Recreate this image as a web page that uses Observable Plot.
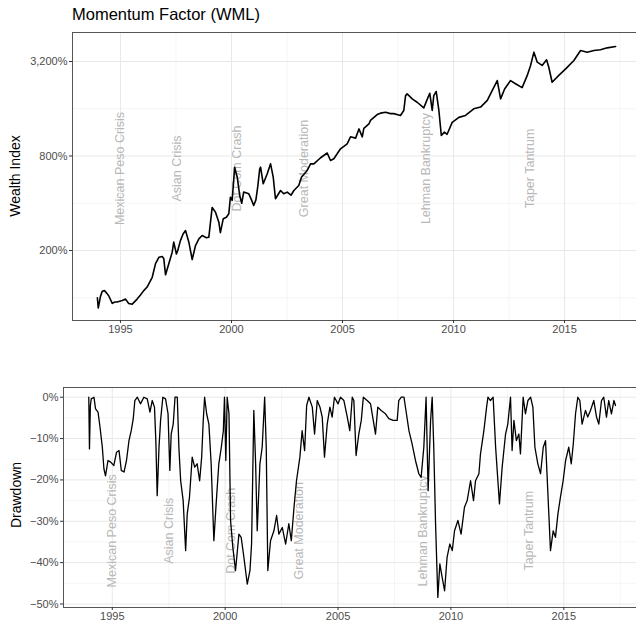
<!DOCTYPE html>
<html><head><meta charset="utf-8">
<script src="https://cdn.jsdelivr.net/npm/d3@7"></script>
<script src="https://cdn.jsdelivr.net/npm/@observablehq/plot@0.6"></script>
<style>
body{margin:0;background:#fff;font-family:"Liberation Sans",Arial,sans-serif;}
#wrap{position:relative;width:636px;height:625px;overflow:hidden;}
.title{position:absolute;left:72px;top:6px;font-size:16.5px;line-height:1;color:#000;white-space:nowrap;}
.ylab{position:absolute;font-size:14px;line-height:1;white-space:nowrap;color:#000;transform:translate(-50%,-50%) rotate(-90deg);}
#top,#bot{position:absolute;left:0;}
</style></head><body>
<div id="wrap">
<div id="top" style="top:0px"></div>
<div id="bot" style="top:345px"></div>
<div class="title">Momentum Factor (WML)</div>
<div class="ylab" style="left:15px;top:176px">Wealth Index</div>
<div class="ylab" style="left:16px;top:495px">Drawdown</div>
</div>
<script>
// ---- Data ----
const wealthYear = [1993.96,1994.0,1994.1,1994.18,1994.28,1994.38,1994.47,1994.63,1994.75,1994.85,1995.08,1995.23,1995.37,1995.53,1995.75,1995.9,1996.05,1996.2,1996.43,1996.58,1996.73,1996.88,1996.95,1997.03,1997.18,1997.33,1997.4,1997.52,1997.58,1997.7,1997.82,1997.93,1998.08,1998.23,1998.38,1998.53,1998.68,1998.87,1998.98,1999.13,1999.28,1999.43,1999.5,1999.63,1999.77,1999.88,1999.95,2000.03,2000.1,2000.14,2000.26,2000.37,2000.46,2000.55,2000.78,2000.9,2001.0,2001.1,2001.18,2001.27,2001.31,2001.43,2001.61,2001.76,2001.88,2001.98,2002.21,2002.35,2002.51,2002.68,2002.81,2003.03,2003.15,2003.41,2003.56,2003.71,2004.0,2004.31,2004.46,2004.61,2004.91,2005.21,2005.36,2005.59,2005.74,2005.89,2005.96,2006.19,2006.26,2006.56,2006.71,2006.94,2007.16,2007.31,2007.61,2007.76,2007.84,2007.91,2008.14,2008.36,2008.66,2008.81,2008.93,2009.04,2009.11,2009.22,2009.34,2009.45,2009.59,2009.71,2009.94,2010.24,2010.54,2010.91,2011.22,2011.52,2011.74,2011.97,2012.12,2012.3,2012.57,2012.79,2013.09,2013.32,2013.47,2013.62,2013.77,2013.99,2014.19,2014.29,2014.44,2014.74,2015.05,2015.42,2015.72,2016.02,2016.32,2016.62,2016.92,2017.3];
const wealthValue = [1.00,0.86,1.02,1.10,1.11,1.07,1.03,0.92,0.94,0.94,0.96,0.98,0.92,0.91,0.98,1.04,1.11,1.17,1.35,1.65,1.81,1.83,1.78,1.40,1.65,1.95,2.26,1.90,2.0,2.31,2.55,2.68,2.26,1.75,2.15,2.37,2.49,2.41,2.43,3.76,3.51,3.03,2.6,3.19,3.26,3.43,4.37,4.17,5.6,6.79,5.86,4.48,4.0,4.71,4.59,4.2,3.87,4.2,5.06,6.6,6.79,5.32,6.16,7.13,5.86,4.27,4.82,4.6,4.71,4.5,4.82,5.19,5.86,6.47,7.13,7.13,7.77,8.36,7.49,7.68,8.89,9.57,10.6,10.4,11.9,10.6,12.0,12.8,13.5,14.7,15.0,15.2,14.9,14.9,14.5,15.6,19.4,19.9,18.5,17.6,16.2,18.3,20.1,15.6,19.4,20.6,15.6,10.8,11.35,11.0,13.1,14.1,14.5,16.0,16.4,18.1,20.9,24.2,18.5,21.4,24.2,23.1,21.8,26.1,30.2,36.7,31.7,30.2,32.8,29.4,23.6,26.1,28.7,32.5,37.6,36.7,37.6,38.0,39.1,39.9];

const ddYear = [1993.96,1993.99,1994.03,1994.07,1994.19,1994.26,1994.37,1994.45,1994.56,1994.63,1994.7,1994.81,1994.93,1995.07,1995.19,1995.3,1995.4,1995.52,1995.63,1995.74,1995.84,1995.93,1996.0,1996.11,1996.25,1996.4,1996.55,1996.67,1996.77,1996.87,1996.93,1996.99,1997.07,1997.14,1997.24,1997.36,1997.47,1997.55,1997.61,1997.7,1997.78,1997.88,1997.95,1998.03,1998.14,1998.25,1998.32,1998.42,1998.54,1998.65,1998.76,1998.87,1998.96,1999.03,1999.09,1999.18,1999.28,1999.38,1999.5,1999.61,1999.72,1999.83,1999.92,1999.97,2000.03,2000.09,2000.17,2000.24,2000.34,2000.46,2000.61,2000.71,2000.83,2000.98,2001.1,2001.17,2001.27,2001.35,2001.42,2001.54,2001.64,2001.75,2001.82,2001.89,2002.01,2002.16,2002.28,2002.38,2002.53,2002.68,2002.82,2002.93,2003.05,2003.16,2003.31,2003.41,2003.52,2003.61,2003.71,2003.86,2003.96,2004.08,2004.2,2004.3,2004.4,2004.52,2004.64,2004.74,2004.84,2005.0,2005.11,2005.26,2005.41,2005.52,2005.63,2005.7,2005.8,2005.92,2006.03,2006.12,2006.29,2006.44,2006.56,2006.66,2006.76,2006.91,2007.1,2007.25,2007.44,2007.62,2007.69,2007.8,2007.92,2008.03,2008.14,2008.28,2008.43,2008.58,2008.68,2008.8,2008.9,2008.99,2009.1,2009.17,2009.24,2009.32,2009.42,2009.51,2009.61,2009.72,2009.83,2009.95,2010.06,2010.16,2010.31,2010.45,2010.6,2010.72,2010.87,2011.0,2011.09,2011.24,2011.31,2011.46,2011.58,2011.64,2011.75,2011.87,2011.98,2012.15,2012.27,2012.42,2012.52,2012.64,2012.71,2012.79,2012.9,2013.01,2013.08,2013.2,2013.3,2013.41,2013.53,2013.63,2013.72,2013.85,2013.97,2014.09,2014.19,2014.29,2014.41,2014.53,2014.63,2014.74,2014.85,2014.97,2015.08,2015.22,2015.33,2015.42,2015.52,2015.62,2015.71,2015.81,2015.96,2016.06,2016.18,2016.33,2016.45,2016.55,2016.67,2016.77,2016.89,2016.99,2017.11,2017.22,2017.29];
const ddValue = [0,-0.125,-0.02,-0.004,0,-0.028,-0.036,-0.069,-0.121,-0.173,-0.19,-0.153,-0.157,-0.165,-0.133,-0.129,-0.177,-0.181,-0.153,-0.105,-0.081,-0.052,-0.008,0,-0.016,0,-0.004,-0.036,-0.008,-0.024,-0.105,-0.238,-0.121,-0.056,0,-0.004,-0.04,-0.177,-0.089,-0.065,0,0,-0.121,-0.202,-0.25,-0.371,-0.282,-0.242,-0.145,-0.169,-0.161,-0.202,-0.145,-0.056,0,-0.04,-0.065,-0.161,-0.347,-0.25,-0.161,-0.121,-0.081,0,-0.153,0,-0.04,-0.298,-0.363,-0.419,-0.331,-0.339,-0.387,-0.452,-0.419,-0.355,-0.032,-0.161,-0.323,-0.161,-0.121,0,-0.121,-0.419,-0.347,-0.323,-0.286,-0.331,-0.315,-0.355,-0.306,-0.347,-0.266,-0.202,-0.145,-0.081,-0.129,-0.02,0,-0.024,-0.089,-0.008,-0.024,-0.048,-0.145,-0.065,-0.024,-0.048,0,-0.016,0,-0.008,-0.048,-0.081,0,-0.008,-0.141,-0.089,-0.056,0,-0.008,-0.016,-0.056,-0.089,-0.024,-0.032,-0.04,-0.052,-0.056,-0.056,-0.008,0,0,-0.04,-0.081,-0.113,-0.153,-0.185,-0.194,-0.121,0,-0.226,-0.056,0,-0.121,-0.306,-0.484,-0.403,-0.435,-0.468,-0.387,-0.355,-0.371,-0.323,-0.298,-0.331,-0.266,-0.25,-0.202,-0.25,-0.202,-0.185,-0.137,-0.081,-0.024,0,-0.008,0,-0.121,-0.258,-0.169,-0.089,-0.065,0,-0.129,-0.056,-0.105,-0.089,-0.137,0,-0.04,-0.008,0,-0.024,-0.121,-0.161,-0.185,-0.121,-0.105,-0.226,-0.371,-0.323,-0.339,-0.282,-0.242,-0.202,-0.153,-0.121,-0.161,-0.113,-0.04,0,-0.008,-0.065,-0.032,-0.048,-0.032,-0.008,-0.048,-0.065,-0.008,0,-0.048,-0.008,-0.04,-0.008,-0.02];

const eventLabels = ["Mexican Peso Crisis","Asian Crisis","Dot Com Crash","Great Moderation","Lehman Bankruptcy","Taper Tantrum"];
const eventYears = [1995.0,1997.53,2000.25,2003.25,2008.78,2013.45];

const xMajor = [1995,2000,2005,2010,2015];
const xMinor = [1997.5,2002.5,2007.5,2012.5,2017.5];
const wealthMajor = [2,8,32];
const wealthMinor = [1,4,16];
const ddMajor = [0,-0.1,-0.2,-0.3,-0.4,-0.5];
const ddMinor = [-0.05,-0.15,-0.25,-0.35,-0.45];

// ---- Build ----
const FONT = '"Liberation Sans", Arial, sans-serif';
const wealth = wealthYear.map((x,i)=>({x, y: wealthValue[i]}));
const dd = ddYear.map((x,i)=>({x, y: ddValue[i]}));
const pctComma = d3.format(",.0%");

const xDomTop = [1992.84, 2018.24];
const yDomTop = [0.716, 48.98];
const topEvents = eventLabels.map((t,i)=>({t, x: eventYears[i], y: 6.66}));

const topPlot = Plot.plot({
  width: 636, height: 345,
  marginLeft: 72, marginRight: 0, marginTop: 32, marginBottom: 25,
  style: {fontFamily: FONT, fontSize: "11px", background: "transparent"},
  x: {domain: xDomTop, label: null},
  y: {type: "log", domain: yDomTop, label: null},
  marks: [
    Plot.ruleX(xMinor, {stroke: "#f2f2f2", strokeWidth: 0.8}),
    Plot.ruleY(wealthMinor, {stroke: "#f2f2f2", strokeWidth: 0.8}),
    Plot.ruleX(xMajor, {stroke: "#e8e8e8", strokeWidth: 1}),
    Plot.ruleY(wealthMajor, {stroke: "#e8e8e8", strokeWidth: 1}),
    Plot.text(topEvents, {x: "x", y: "y", text: "t", rotate: -90, fill: "#b8b8b8", fontSize: 12.5}),
    Plot.line(wealth, {x: "x", y: "y", stroke: "#000", strokeWidth: 1.6}),
    Plot.ruleX([xDomTop[0]], {stroke: "#555", strokeWidth: 1}),
    Plot.ruleY(yDomTop, {stroke: "#555", strokeWidth: 1}),
    Plot.axisX({ticks: xMajor, tickFormat: d => String(d), tickSize: 3, tickPadding: 2, label: null, stroke: "#333", fill: "#4d4d4d", fontSize: 11}),
    Plot.axisY({ticks: wealthMajor, tickFormat: () => "", tickSize: 3, tickPadding: 2, label: null, stroke: "#333"}),
    Plot.text(wealthMajor, {y: d => d, text: d => pctComma(d), frameAnchor: "left", textAnchor: "end", dx: -5, fill: "#4d4d4d", fontSize: 11})
  ]
});
document.getElementById("top").appendChild(topPlot);

const xDomBot = [1992.84, 2018.22];
const yDomBot = [-0.5085, 0.0235];
const botEvents = eventLabels.map((t,i)=>({t, x: eventYears[i], y: -0.323}));

const botPlot = Plot.plot({
  width: 636, height: 280,
  marginLeft: 63, marginRight: 0, marginTop: 42, marginBottom: 18,
  style: {fontFamily: FONT, fontSize: "11px", background: "transparent"},
  x: {domain: xDomBot, label: null},
  y: {domain: yDomBot, label: null},
  marks: [
    Plot.ruleX(xMinor, {stroke: "#f2f2f2", strokeWidth: 0.8}),
    Plot.ruleY(ddMinor, {stroke: "#f2f2f2", strokeWidth: 0.8}),
    Plot.ruleX(xMajor, {stroke: "#e8e8e8", strokeWidth: 1}),
    Plot.ruleY(ddMajor, {stroke: "#e8e8e8", strokeWidth: 1}),
    Plot.text(botEvents, {x: "x", y: "y", text: "t", rotate: -90, fill: "#b8b8b8", fontSize: 12.5}),
    Plot.line(dd, {x: "x", y: "y", stroke: "#000", strokeWidth: 1.3}),
    Plot.ruleX([xDomBot[0]], {stroke: "#555", strokeWidth: 1}),
    Plot.ruleY(yDomBot, {stroke: "#555", strokeWidth: 1}),
    Plot.axisX({ticks: xMajor, tickFormat: d => String(d), tickSize: 3, tickPadding: 2, label: null, stroke: "#333", fill: "#4d4d4d", fontSize: 11}),
    Plot.axisY({ticks: ddMajor, tickFormat: d3.format(".0%"), tickSize: 3, tickPadding: 2, label: null, stroke: "#333", fill: "#4d4d4d", fontSize: 11})
  ]
});
document.getElementById("bot").appendChild(botPlot);
</script>
</body></html>
